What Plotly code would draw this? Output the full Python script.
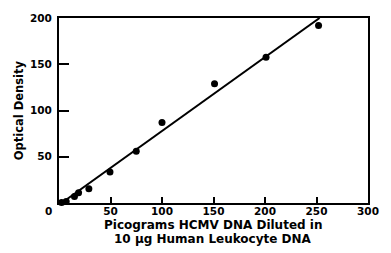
import plotly.graph_objects as go

# Data
picograms = [2.5, 7, 15, 19, 29, 49.5, 75, 100, 151, 201, 252]
optical_density = [0.6, 1.7, 7, 11, 15.5, 33.5, 56, 87, 129, 157.5, 192]
fit_x = [2.5, 253]
fit_y = [0, 200]
x_ticks = [50, 100, 150, 200, 250, 300]
y_ticks = [50, 100, 150, 200]
x_title_lines = ["Picograms HCMV DNA Diluted in", "10 μg Human Leukocyte DNA"]
y_title = "Optical Density"

FONT = "DejaVu Sans, Liberation Sans, Arial, sans-serif"

fig = go.Figure()
fig.add_trace(go.Scatter(x=fit_x, y=fit_y, mode="lines",
                         line=dict(color="black", width=2), showlegend=False,
                         cliponaxis=False, hoverinfo="skip"))
fig.add_trace(go.Scatter(x=picograms, y=optical_density, mode="markers",
                         marker=dict(color="black", size=7), showlegend=False,
                         cliponaxis=False))

axis_common = dict(showgrid=False, zeroline=False, showline=True, linecolor="black",
                   linewidth=2, mirror=True, ticks="inside", tickcolor="black",
                   tickwidth=2, tickfont=dict(family=FONT, size=10.5, color="black",
                                              weight="bold"))

fig.update_xaxes(range=[0, 300], tickvals=x_ticks, ticklen=6, ticklabelstandoff=-3,
                 **axis_common)
fig.update_yaxes(range=[0, 200], tickvals=y_ticks, ticklen=10, ticklabelstandoff=3,
                 **axis_common)

# Plot area: x 59..378 px, y 18..203 px
PW, PH = 319, 185
def px_x(p):
    return (p - 59) / PW
def px_y(p):
    return (203 - p) / PH

fig.add_annotation(x=px_x(218), y=px_y(224.5), xref="paper", yref="paper",
                   text="<b>" + x_title_lines[0] + "</b>", showarrow=False,
                   xanchor="center", yanchor="middle", borderpad=0,
                   font=dict(family=FONT, size=12, color="black"))
fig.add_annotation(x=px_x(218), y=px_y(239), xref="paper", yref="paper",
                   text="<b>" + x_title_lines[1] + "</b>", showarrow=False,
                   xanchor="center", yanchor="middle", borderpad=0,
                   font=dict(family=FONT, size=12, color="black"))
fig.add_annotation(x=px_x(18), y=px_y(110), xref="paper", yref="paper",
                   text="<b>" + y_title + "</b>", showarrow=False, textangle=-90,
                   xanchor="center", yanchor="middle",
                   font=dict(family=FONT, size=11.5, color="black"))

fig.add_annotation(x=0, y=0, xref="x", yref="y", text="<b>0</b>", showarrow=False,
                   xanchor="right", yanchor="top", xshift=-5, yshift=0,
                   font=dict(family=FONT, size=10.5, color="black"))

fig.update_layout(width=391, height=253, margin=dict(l=59, r=13, t=18, b=50),
                  plot_bgcolor="white", paper_bgcolor="white",
                  font=dict(family=FONT, color="black"))

fig.write_html("out.html", config={"displayModeBar": False},
               post_script="document.body.style.margin='0';document.body.style.overflow='hidden';")
